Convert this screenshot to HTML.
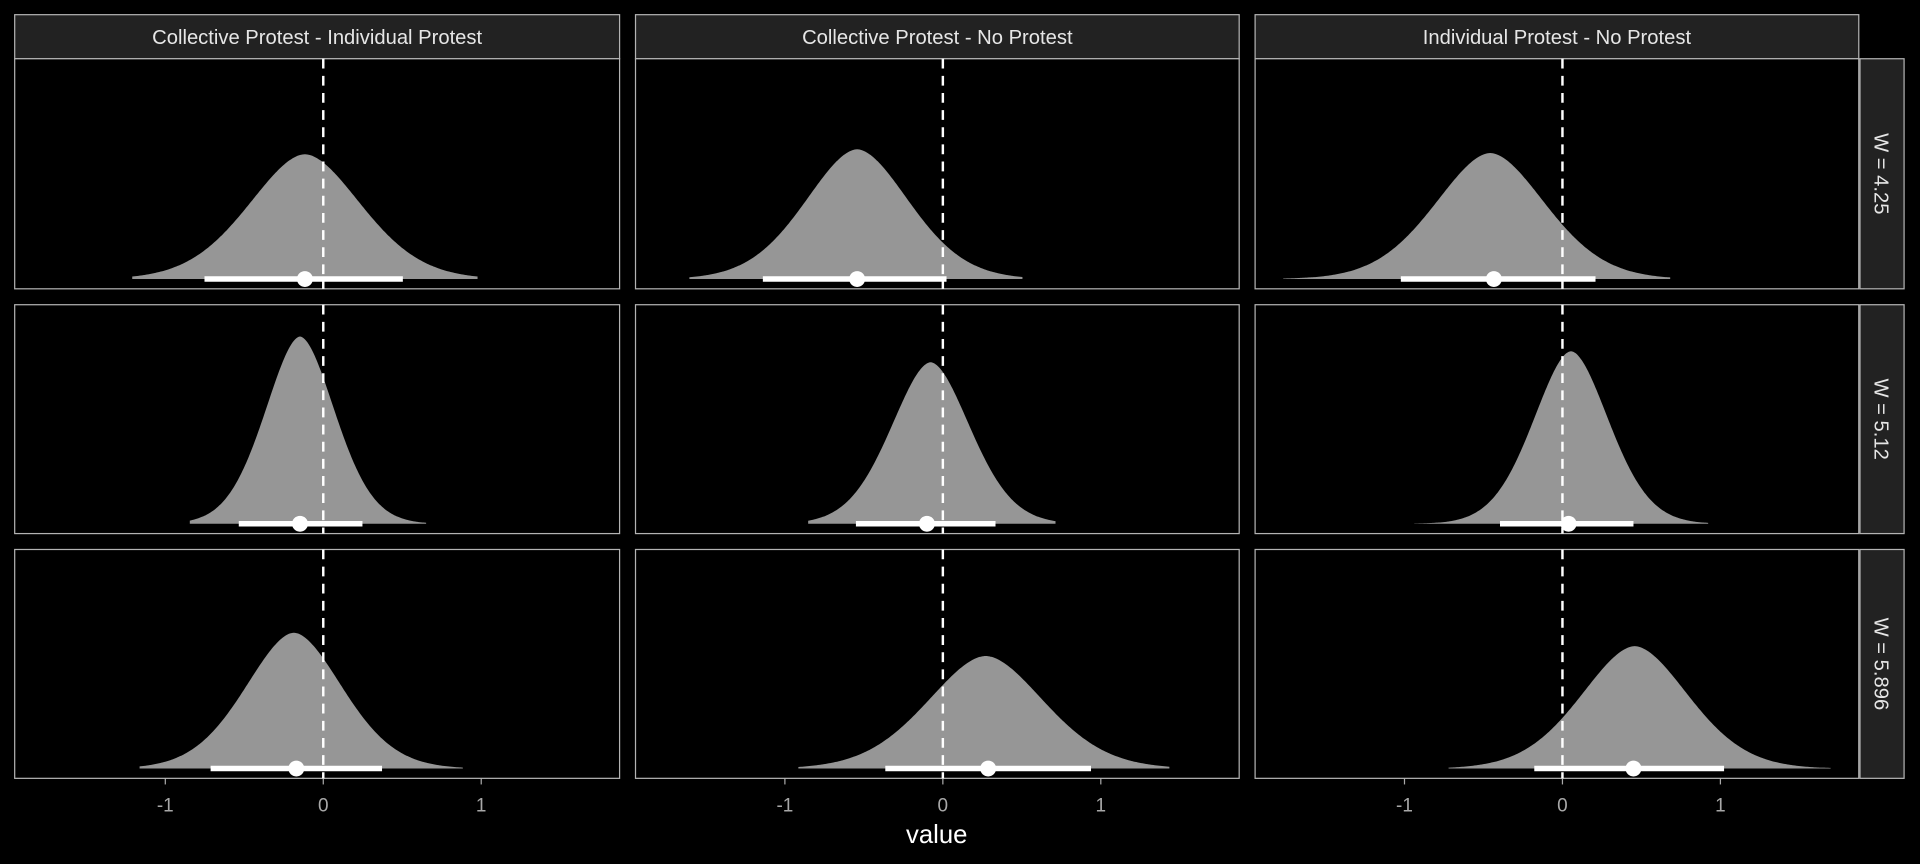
<!DOCTYPE html>
<html><head><meta charset="utf-8"><style>
html,body{margin:0;padding:0;background:#000;}
svg{display:block;}
text{font-family:"Liberation Sans",sans-serif;}
</style></head><body>
<svg id="s" width="1920" height="864" viewBox="0 0 1568 706" preserveAspectRatio="none" xmlns="http://www.w3.org/2000/svg">
<rect width="1568" height="706" fill="#000"/>
</svg>
<script>
var s=document.getElementById('s'),NS='http://www.w3.org/2000/svg';
function el(t,a,txt){var e=document.createElementNS(NS,t);for(var k in a)e.setAttribute(k,a[k]);if(txt!=null)e.textContent=txt;s.appendChild(e);return e;}
var cols=[[12,506,264],[519,1012,770],[1025,1518,1276]];
var rows=[[48,236],[249,436],[449,636]];
var titles=["Collective Protest - Individual Protest","Collective Protest - No Protest","Individual Protest - No Protest"];
var rl=["W = 4.25","W = 5.12","W = 5.896"];
var d=[
[[249,102,167,329,249,108,390],[700,106,623,773,700,563,835],[1217,103,1144,1303,1220,1048,1364]],
[[245,153,195,296,245,155,348],[760,132,699,813,757,660,862],[1283,141,1225,1334,1281,1155,1395]],
[[240,111,172,312,242,114,378],[805,92,723,891,807,652,955],[1335,100,1253,1408,1334,1183,1495]]];
cols.forEach(function(c,i){
 el('rect',{x:c[0],y:12,width:c[1]-c[0],height:36,fill:'#222',stroke:'#b3b3b3','stroke-width':1});
 el('text',{x:(c[0]+c[1])/2,y:36,'text-anchor':'middle','font-size':16.5,fill:'#e6e6e6'},titles[i]);
 [-1,0,1].forEach(function(v){var x=c[2]+v*129;
  el('line',{x1:x,x2:x,y1:636,y2:641,stroke:'#aaa','stroke-width':1});
  el('text',{x:x,y:663,'text-anchor':'middle','font-size':15.5,fill:'#a8a8a8'},v==-1?'-1':String(v));});
});
rows.forEach(function(r,j){
 el('rect',{x:1519,y:r[0],width:36,height:r[1]-r[0],fill:'#222',stroke:'#b3b3b3','stroke-width':1});
 var cy=(r[0]+r[1])/2;
 el('text',{x:1537,y:cy,'text-anchor':'middle','font-size':16.5,fill:'#e6e6e6',transform:'rotate(90 1537 '+cy+')',dy:6},rl[j]);
 cols.forEach(function(c,i){
  el('rect',{x:c[0],y:r[0],width:c[1]-c[0],height:r[1]-r[0],fill:'#000',stroke:'#b3b3b3','stroke-width':1});
  var p=d[j][i],base=r[1]-8,sg=(p[3]-p[2])/3.6;
  var pts=[];for(var x=p[5];x<=p[6];x+=1){var z=(x-p[0])/sg;
   var g=Math.exp(-Math.pow(Math.abs(z),1.8)/2);
   pts.push(x+','+(base-p[1]*g).toFixed(1));}
  el('path',{d:'M'+p[5]+','+base+' L'+pts.join(' L')+' L'+p[6]+','+base+'Z',fill:'#969696'});
  el('line',{x1:c[2],x2:c[2],y1:r[0],y2:r[1],stroke:'#fff','stroke-width':2,'stroke-dasharray':'8,6'});
  el('line',{x1:p[2],x2:p[3],y1:base,y2:base,stroke:'#fff','stroke-width':4.5});
  el('circle',{cx:p[4],cy:base,r:6.5,fill:'#fff'});
 });
});
el('text',{x:765,y:689,'text-anchor':'middle','font-size':21,fill:'#fff'},'value');
</script>
</body></html>
